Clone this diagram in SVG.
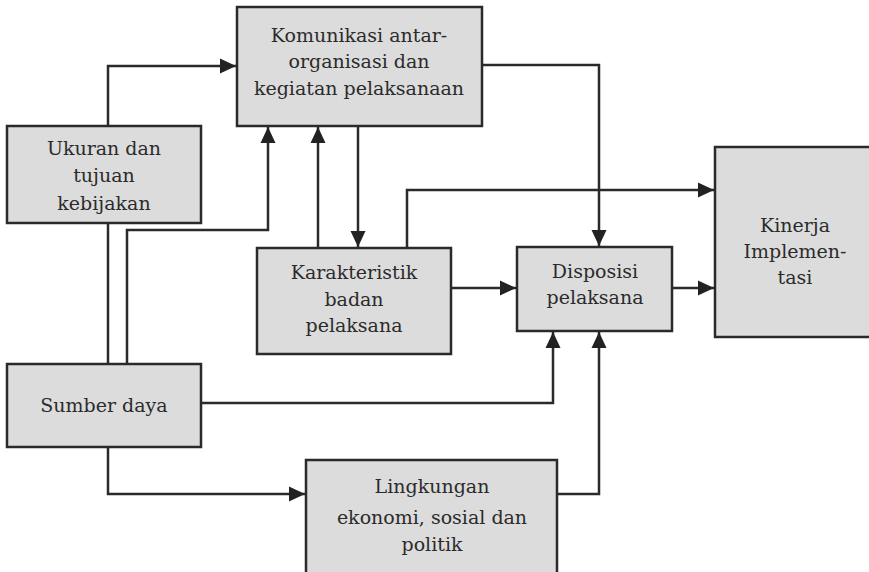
<svg xmlns="http://www.w3.org/2000/svg" width="869" height="572" viewBox="0 0 869 572">
<style>
.box{fill:#dcdcdc;stroke:#2a2a2a;stroke-width:2.5}
.t{font-family:"DejaVu Serif",serif;font-size:19px;fill:#2b2b2b;text-anchor:middle}
.c{fill:none;stroke:#2a2a2a;stroke-width:2.5}
.a{marker-end:url(#ah)}
</style>
<defs>
<marker id="ah" markerUnits="userSpaceOnUse" markerWidth="17" markerHeight="16" refX="16" refY="8" orient="auto">
<path d="M0,0.5 L16,8 L0,15.5 Z" fill="#222"/>
</marker>
</defs>
<rect width="869" height="572" fill="#fff"/>
<g id="connectors">
<path class="c a" d="M108,126 V66 H236"/>
<path class="c" d="M108,223 V364"/>
<path class="c a" d="M127,364 V230 H268 V127"/>
<path class="c a" d="M318,248 V127"/>
<path class="c a" d="M358,126 V247"/>
<path class="c a" d="M482,65 H599 V246"/>
<path class="c a" d="M407,248 V190 H714"/>
<path class="c a" d="M451,288 H516"/>
<path class="c a" d="M672,288 H714"/>
<path class="c a" d="M201,403 H553 V332"/>
<path class="c a" d="M108,447 V494 H305"/>
<path class="c a" d="M557,494 H599 V332"/>
</g>
<g id="komunikasi">
<rect class="box" x="237" y="7" width="245" height="119"/>
<text class="t" x="359" y="42">Komunikasi antar-</text>
<text class="t" x="359" y="68">organisasi dan</text>
<text class="t" x="359" y="95">kegiatan pelaksanaan</text>
</g>
<g id="ukuran">
<rect class="box" x="7" y="126" width="194" height="97"/>
<text class="t" x="104" y="155">Ukuran dan</text>
<text class="t" x="104" y="182">tujuan</text>
<text class="t" x="104" y="210">kebijakan</text>
</g>
<g id="karakteristik">
<rect class="box" x="257" y="248" width="194" height="106"/>
<text class="t" x="354" y="279">Karakteristik</text>
<text class="t" x="354" y="306">badan</text>
<text class="t" x="354" y="332">pelaksana</text>
</g>
<g id="disposisi">
<rect class="box" x="517" y="247" width="155" height="84"/>
<text class="t" x="595" y="278">Disposisi</text>
<text class="t" x="595" y="304">pelaksana</text>
</g>
<g id="kinerja">
<rect class="box" x="715" y="147" width="160" height="190"/>
<text class="t" x="795" y="232">Kinerja</text>
<text class="t" x="795" y="258">Implemen-</text>
<text class="t" x="795" y="284">tasi</text>
</g>
<g id="sumber">
<rect class="box" x="7" y="364" width="194" height="83"/>
<text class="t" x="104" y="412">Sumber daya</text>
</g>
<g id="lingkungan">
<rect class="box" x="306" y="460" width="251" height="120"/>
<text class="t" x="432" y="493">Lingkungan</text>
<text class="t" x="432" y="524">ekonomi, sosial dan</text>
<text class="t" x="432" y="551">politik</text>
</g>
</svg>
